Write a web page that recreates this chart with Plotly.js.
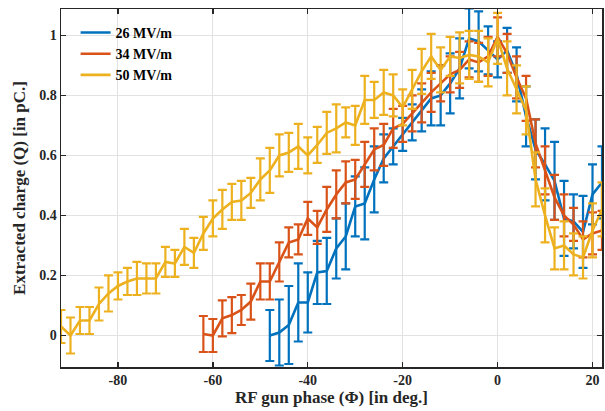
<!DOCTYPE html>
<html><head><meta charset="utf-8">
<script src="https://cdn.plot.ly/plotly-3.0.1.min.js"></script>
<style>html,body{margin:0;padding:0;background:#fff}#chart{width:605px;height:411px}</style>
</head><body><div id="chart"></div>
<script>
const seriesNames = ['26 MV/m', '34 MV/m', '50 MV/m'];
const seriesColors = ['#0072BD', '#D95319', '#EDB120'];

const phaseBlue = [-48,-46,-44,-42,-40,-38,-36,-34,-32,-30,-28,-26,-24,-22,-20,-18,-16,-14,-12,-10,-8,-6,-4,-2,0,2,4,6,8,10,12,14,16,18,20,22];
const qBlue = [0.00,0.01,0.035,0.11,0.11,0.21,0.215,0.29,0.33,0.43,0.44,0.52,0.59,0.63,0.67,0.71,0.75,0.79,0.80,0.84,0.89,0.99,0.98,0.95,0.92,0.95,0.87,0.73,0.62,0.57,0.515,0.39,0.38,0.345,0.47,0.51];
const errBlue = [0.085,0.11,0.13,0.13,0.10,0.105,0.11,0.10,0.11,0.10,0.12,0.11,0.08,0.06,0.055,0.06,0.07,0.09,0.10,0.10,0.10,0.10,0.10,0.08,0.06,0.075,0.09,0.10,0.10,0.12,0.13,0.125,0.09,0.12,0.10,0.12];

const phaseOrange = [-62,-60,-58,-56,-54,-52,-50,-48,-46,-44,-42,-40,-38,-36,-34,-32,-30,-28,-26,-24,-22,-20,-18,-16,-14,-12,-10,-8,-6,-4,-2,0,2,4,6,8,10,12,14,16,18,20,22];
const qOrange = [0.005,0.00,0.057,0.068,0.085,0.113,0.18,0.18,0.245,0.31,0.32,0.39,0.36,0.42,0.47,0.51,0.52,0.57,0.62,0.635,0.69,0.705,0.74,0.775,0.81,0.84,0.87,0.885,0.92,0.91,0.93,0.995,0.94,0.86,0.79,0.64,0.55,0.46,0.40,0.37,0.32,0.34,0.35];
const errOrange = [0.06,0.055,0.06,0.06,0.05,0.06,0.06,0.06,0.065,0.05,0.05,0.055,0.055,0.075,0.08,0.07,0.065,0.075,0.07,0.07,0.065,0.06,0.06,0.065,0.065,0.06,0.06,0.06,0.06,0.065,0.065,0.065,0.065,0.07,0.075,0.08,0.08,0.075,0.07,0.055,0.06,0.07,0.065];

const phaseYellow = [-92,-90,-88,-86,-84,-82,-80,-78,-76,-74,-72,-70,-68,-66,-64,-62,-60,-58,-56,-54,-52,-50,-48,-46,-44,-42,-40,-38,-36,-34,-32,-30,-28,-26,-24,-22,-20,-18,-16,-14,-12,-10,-8,-6,-4,-2,0,2,4,6,8,10,12,14,16,18,20,22];
const qYellow = [0.03,0.00,0.05,0.05,0.105,0.14,0.165,0.18,0.19,0.19,0.19,0.245,0.24,0.295,0.275,0.34,0.39,0.42,0.445,0.45,0.475,0.52,0.55,0.60,0.61,0.63,0.60,0.635,0.675,0.69,0.71,0.70,0.785,0.785,0.81,0.80,0.76,0.82,0.88,0.93,0.885,0.93,0.925,0.935,0.93,0.91,0.99,0.89,0.82,0.75,0.52,0.40,0.29,0.30,0.27,0.26,0.35,0.42];
const errYellow = [0.055,0.06,0.045,0.045,0.055,0.06,0.045,0.045,0.055,0.05,0.05,0.05,0.045,0.06,0.05,0.055,0.06,0.065,0.06,0.065,0.05,0.07,0.075,0.07,0.065,0.075,0.06,0.06,0.07,0.08,0.05,0.065,0.08,0.06,0.075,0.07,0.06,0.065,0.075,0.075,0.075,0.065,0.085,0.08,0.085,0.08,0.085,0.09,0.08,0.08,0.09,0.09,0.07,0.08,0.07,0.07,0.09,0.09];

const xTickVals = [-80,-60,-40,-20,0,20];
const xTickText = ['-80','-60','-40','-20','0','20'];
const yTickVals = [0,0.2,0.4,0.6,0.8,1];
const yTickText = ['0','0.2','0.4','0.6','0.8','1'];

const xs = [phaseBlue, phaseOrange, phaseYellow];
const ys = [qBlue, qOrange, qYellow];
const es = [errBlue, errOrange, errYellow];

const traces = xs.map((x, i) => ({
  type: 'scatter', mode: 'lines', x: x, y: ys[i], name: seriesNames[i],
  line: {color: seriesColors[i], width: 2.6},
  error_y: {type: 'data', array: es[i], visible: true, color: seriesColors[i], thickness: 2.2, width: 4.5},
  cliponaxis: true
}));

const fontFam = 'Times New Roman, Liberation Serif, serif';
const axisCommon = {
  showgrid: true, gridcolor: '#e2e2e2', gridwidth: 1,
  zeroline: false, showline: true, linecolor: '#262626', linewidth: 1.5,
  mirror: 'ticks', ticks: 'inside', ticklen: 5, tickwidth: 1.3, tickcolor: '#262626',
  tickfont: {family: fontFam, size: 14, color: '#262626', weight: 'bold'}
};

const layout = {
  width: 605, height: 411,
  margin: {l: 61, r: 3, t: 9, b: 44},
  paper_bgcolor: '#fff', plot_bgcolor: '#fff',
  showlegend: true,
  legend: {x: 0.027, y: 0.978, xanchor: 'left', yanchor: 'top', bgcolor: 'rgba(0,0,0,0)',
           font: {family: fontFam, size: 14, color: '#000', weight: 'bold'}, tracegroupgap: 0},
  xaxis: Object.assign({}, axisCommon, {
    range: [-92, 22], tickmode: 'array', tickvals: xTickVals, ticktext: xTickText,
    title: {text: 'RF gun phase (Φ) [in deg.]', font: {family: fontFam, size: 17, color: '#262626', weight: 'bold'}, standoff: 4}
  }),
  yaxis: Object.assign({}, axisCommon, {
    range: [-0.105, 1.088], tickmode: 'array', tickvals: yTickVals, ticktext: yTickText,
    title: {text: 'Extracted charge (Q) [in pC.]', font: {family: fontFam, size: 17, color: '#262626', weight: 'bold'}, standoff: 9}
  })
};

Plotly.newPlot('chart', traces, layout, {staticPlot: true, displayModeBar: false});
</script></body></html>
